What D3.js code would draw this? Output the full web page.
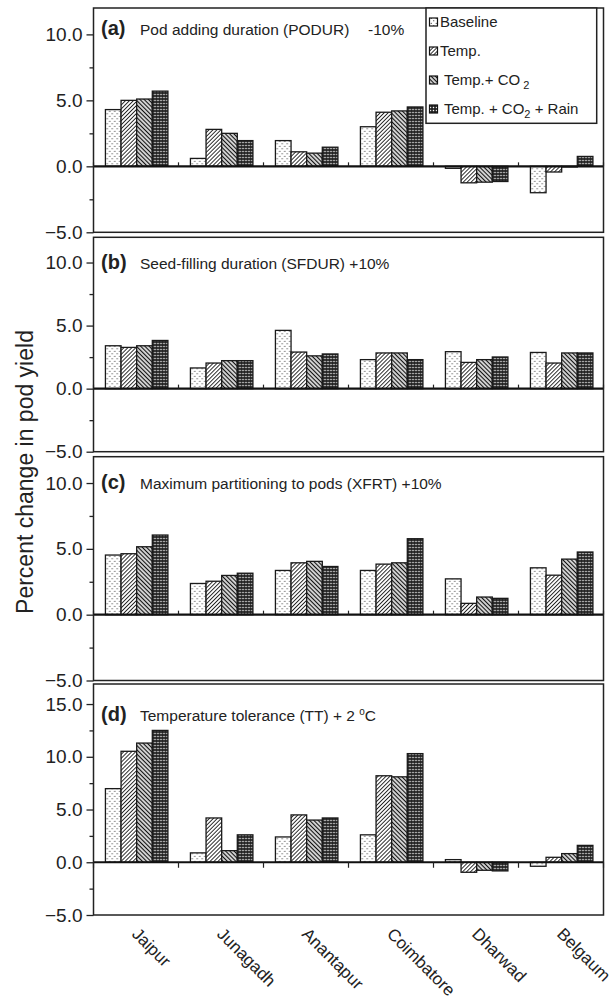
<!DOCTYPE html>
<html><head><meta charset="utf-8">
<script src="https://cdn.jsdelivr.net/npm/d3@7"></script>
<style>
html,body{margin:0;padding:0;background:#fff;}
svg text{font-family:"Liberation Sans", Arial, sans-serif; fill:#222; white-space:pre;}
</style></head><body>
<svg id="chart" width="616" height="1008"></svg>
<script>
// ---------- data ----------
const categories = ["Jaipur","Junagadh","Anantapur","Coimbatore","Dharwad","Belgaum"];
const seriesNames = ["Baseline","Temp.","Temp.+ CO2","Temp. + CO2 + Rain"];
// legend label parts: odd indices are subscripts
const legendLabelParts = [["Baseline"],["Temp."],[" Temp.+ CO"," 2"],[" Temp. + CO","2"," + Rain"]];
const panelLetters = ["(a)","(b)","(c)","(d)"];
const panelTitles = ["Pod adding duration (PODUR)","Seed-filling duration (SFDUR) +10%","Maximum partitioning to pods (XFRT) +10%","Temperature tolerance (TT) + 2 "];
const panelTitleExtra = ["-10%","","",""];
const yLabel = "Percent change in pod yield";
// values: rows = categories, columns = series
const podurValues = [[4.3,5.0,5.1,5.7],[0.6,2.8,2.5,1.95],[1.95,1.1,1.0,1.45],[3.0,4.1,4.2,4.5],[-0.15,-1.25,-1.2,-1.15],[-2.0,-0.43,-0.05,0.75]];
const sfdurValues = [[3.4,3.27,3.4,3.82],[1.64,2.03,2.22,2.22],[4.62,2.9,2.6,2.75],[2.3,2.83,2.83,2.3],[2.93,2.08,2.3,2.51],[2.87,2.03,2.83,2.83]];
const xfrtValues = [[4.53,4.63,5.16,6.05],[2.37,2.54,2.98,3.15],[3.36,3.94,4.05,3.66],[3.36,3.84,3.94,5.77],[2.72,0.86,1.34,1.24],[3.56,3.0,4.22,4.76]];
const ttValues = [[6.98,10.52,11.3,12.5],[0.89,4.2,1.1,2.6],[2.4,4.49,4.0,4.2],[2.6,8.2,8.1,10.3],[0.25,-0.95,-0.76,-0.82],[-0.38,0.47,0.82,1.6]];
const yDomains = [[-5,12],[-5,12],[-5,12],[-5,16.9]];
const yTickValues = [[-5,0,5,10],[-5,0,5,10],[-5,0,5,10],[-5,0,5,10,15]];

// ---------- layout ----------
const panelValues = [podurValues, sfdurValues, xfrtValues, ttValues];
const panelTop = [8, 237.3, 456.7, 684];
const panelBottom = [232.3, 451.7, 680.5, 915];
const titleBaseline = [35, 269, 489, 721];
const plotLeft = 93.5, plotRight = 603.5;

const svg = d3.select("#chart");
svg.append("rect").attr("width",616).attr("height",1008).attr("fill","#fff");

// ---------- patterns ----------
const defs = svg.append("defs");
const p0 = defs.append("pattern").attr("id","pat0").attr("patternUnits","userSpaceOnUse").attr("width",5).attr("height",5);
p0.append("rect").attr("width",5).attr("height",5).attr("fill","#fff");
p0.append("circle").attr("cx",1.25).attr("cy",1.25).attr("r",0.6).attr("fill","#111");
p0.append("circle").attr("cx",3.75).attr("cy",3.75).attr("r",0.6).attr("fill","#111");

const p1 = defs.append("pattern").attr("id","pat1").attr("patternUnits","userSpaceOnUse").attr("width",2.8).attr("height",4).attr("patternTransform","rotate(45)");
p1.append("rect").attr("width",2.8).attr("height",4).attr("fill","#fff");
p1.append("line").attr("x1",1.4).attr("y1",0).attr("x2",1.4).attr("y2",4).attr("stroke","#111").attr("stroke-width",0.9);

const p2 = defs.append("pattern").attr("id","pat2").attr("patternUnits","userSpaceOnUse").attr("width",3).attr("height",4).attr("patternTransform","rotate(-45)");
p2.append("rect").attr("width",3).attr("height",4).attr("fill","#fff");
p2.append("line").attr("x1",1.5).attr("y1",0).attr("x2",1.5).attr("y2",4).attr("stroke","#111").attr("stroke-width",1.4);

const p3 = defs.append("pattern").attr("id","pat3").attr("patternUnits","userSpaceOnUse").attr("width",3).attr("height",3);
p3.append("rect").attr("width",3).attr("height",3).attr("fill","#1a1a1a");
p3.append("rect").attr("x",0.8).attr("y",0.8).attr("width",1.4).attr("height",1.4).attr("fill","#fff");

// ---------- scales ----------
const x0 = d3.scaleBand().domain(categories).range([plotLeft, plotRight]).padding(0);
const x1 = d3.scaleBand().domain(seriesNames).range([0, x0.bandwidth()]).paddingInner(0).paddingOuter(0.72).align(0.53);

panelValues.forEach((vals, i) => {
  const g = svg.append("g");
  const y = d3.scaleLinear().domain(yDomains[i]).range([panelBottom[i], panelTop[i]]);

  // bars
  const cg = g.selectAll("g.cat").data(categories).join("g").attr("class","cat")
    .attr("transform", c => `translate(${x0(c)},0)`);
  cg.selectAll("rect").data((c, ci) => seriesNames.map((s, si) => ({s, si, v: vals[ci][si]})))
    .join("rect")
    .attr("x", d => x1(d.s))
    .attr("width", x1.bandwidth())
    .attr("y", d => y(Math.max(0, d.v)))
    .attr("height", d => Math.abs(y(d.v) - y(0)))
    .attr("fill", d => `url(#pat${d.si})`)
    .attr("stroke","#1a1a1a").attr("stroke-width",1.3);

  // zero line
  g.append("line").attr("x1",plotLeft).attr("x2",plotRight).attr("y1",y(0)).attr("y2",y(0))
    .attr("stroke","#111").attr("stroke-width",2.2);
  // category boundary ticks
  const bounds = categories.map(c => x0(c)).concat([plotRight]);
  const tlen = i < 3 ? -4 : 5.5;
  g.selectAll("line.ct").data(bounds).join("line").attr("class","ct")
    .attr("x1", d => d).attr("x2", d => d).attr("y1", y(0)).attr("y2", y(0) + tlen)
    .attr("stroke","#222").attr("stroke-width",1.2);

  // box
  g.append("rect").attr("x",plotLeft).attr("y",panelTop[i]).attr("width",plotRight-plotLeft)
    .attr("height",panelBottom[i]-panelTop[i]).attr("fill","none").attr("stroke","#222").attr("stroke-width",1.5);

  // y axis
  const major = d3.axisLeft(y).tickValues(yTickValues[i]).tickSize(7).tickPadding(4).tickFormat(d3.format(".1f"));
  const minorVals = d3.range(-2.5, yDomains[i][1], 5);
  const minor = d3.axisLeft(y).tickValues(minorVals).tickSize(4).tickFormat("");
  const ga = g.append("g").attr("transform",`translate(${plotLeft},0)`).call(major);
  const gm = g.append("g").attr("transform",`translate(${plotLeft},0)`).call(minor);
  [ga, gm].forEach(a => {
    a.select(".domain").remove();
    a.selectAll(".tick line").attr("stroke","#222").attr("stroke-width",1.3);
  });
  ga.selectAll(".tick text").attr("font-size",19).attr("font-family",null).attr("fill","#222");

  // titles
  g.append("text").attr("x",101).attr("y",titleBaseline[i]).attr("font-weight","bold").attr("font-size",20).text(panelLetters[i]);
  const t = g.append("text").attr("x",140).attr("y",titleBaseline[i]).attr("font-size",15.5).text(panelTitles[i]);
  if (i === 3) {
    t.append("tspan").attr("font-size",10).attr("dy",-6).text("o");
    t.append("tspan").attr("dy",6).text("C");
  }
  if (panelTitleExtra[i]) {
    g.append("text").attr("x",368).attr("y",titleBaseline[i]).attr("font-size",15.5).text(panelTitleExtra[i]);
  }
});

// ---------- legend ----------
const legend = svg.append("g");
legend.append("rect").attr("x",426).attr("y",8).attr("width",170.7).attr("height",115.3)
  .attr("fill","#fff").attr("stroke","#222").attr("stroke-width",1.5);
const rows = legend.selectAll("g.row").data(seriesNames).join("g").attr("class","row")
  .attr("transform",(d,i) => `translate(0,${22 + i*29})`);
rows.append("rect").attr("x",429.5).attr("y",-4).attr("width",8).attr("height",8)
  .attr("fill",(d,i) => `url(#pat${i})`).attr("stroke","#111").attr("stroke-width",1.2);
rows.each(function(d, i) {
  const txt = d3.select(this).append("text").attr("x",440).attr("y",0).attr("dy","0.35em").attr("font-size",15);
  legendLabelParts[i].forEach((part, pi) => {
    const sub = pi % 2 === 1;
    const prevSub = pi > 0 && (pi - 1) % 2 === 1;
    txt.append("tspan").attr("font-size", sub ? 11 : 15)
      .attr("dy", sub ? 4 : (prevSub ? -4 : null)).text(part);
  });
});

// ---------- x labels ----------
svg.selectAll("text.xl").data(categories).join("text").attr("class","xl")
  .attr("transform", c => `translate(${x0(c) + x0.bandwidth()/2 - 5},935) rotate(45)`)
  .attr("font-size",17).text(c => c);

// ---------- y label ----------
svg.append("text").attr("transform","translate(33,472) rotate(-90)").attr("text-anchor","middle")
  .attr("font-size",23).text(yLabel);
</script>
</body></html>
